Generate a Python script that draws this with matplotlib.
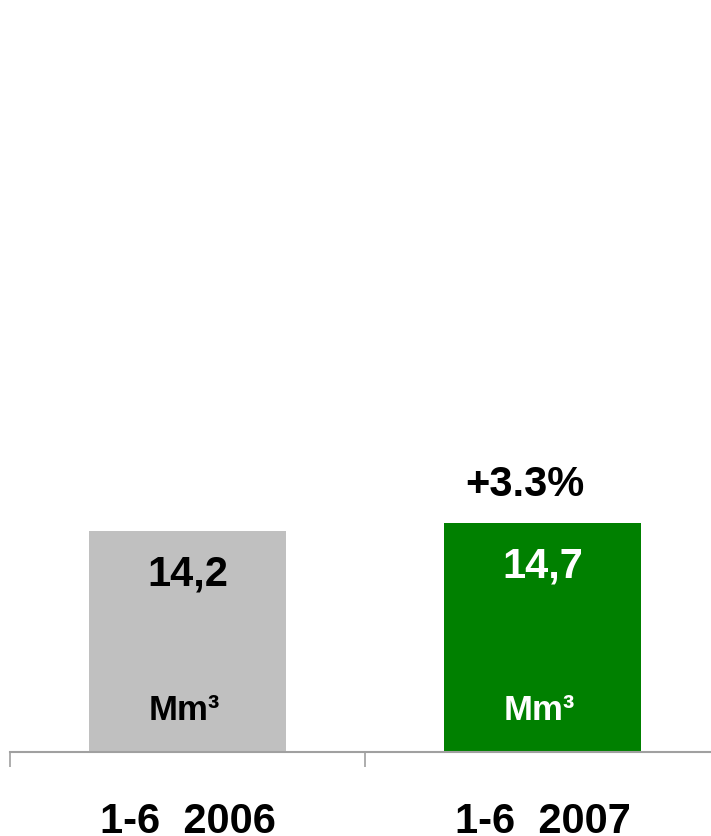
import matplotlib
matplotlib.use('Agg')
import matplotlib.pyplot as plt

# Data
periods = ['1-6  2006', '1-6  2007']
values = [14.2, 14.7]
value_labels = ['14,2', '14,7']
unit = 'Mm³'
change_label = '+3.3%'
bar_colors = ['#c0c0c0', '#008000']
text_colors = ['black', 'white']

plt.rcParams['font.family'] = ['Liberation Sans', 'DejaVu Sans']

fig = plt.figure(figsize=(7.11, 8.37), dpi=100)
ax = fig.add_axes([10 / 711, 84 / 837, 710 / 711, 753 / 837])

x = [0.5, 1.5]
ax.bar(x, values, width=0.556, color=bar_colors, zorder=2)

ax.set_xlim(0, 2)
ax.set_ylim(0, 48.4)

# value and unit labels inside the bars
for xi, v, lab, tc in zip(x, values, value_labels, text_colors):
    ax.text(xi, v - 2.7, lab, ha='center', va='center',
            fontsize=30, fontweight='bold', color=tc)
    ax.text(xi - 0.01, 2.7, unit, ha='center', va='center',
            fontsize=25, fontweight='bold', color=tc)

# change annotation above second bar
ax.text(x[1] - 0.05, values[1] + 2.5, change_label, ha='center', va='center',
        fontsize=30, fontweight='bold', color='black')

# category labels
for xi, p in zip(x, periods):
    ax.text(xi, -5.15, p, ha='center', va='baseline',
            fontsize=30, fontweight='bold', color='black', clip_on=False)

ax.set_xticks([0, 1, 2])
ax.set_xticklabels([])
ax.set_yticks([])
ax.tick_params(axis='x', direction='out', length=11, width=1.2, color='#a0a0a0')
for s in ['top', 'right', 'left']:
    ax.spines[s].set_visible(False)
ax.spines['bottom'].set_color('#a0a0a0')
ax.spines['bottom'].set_linewidth(1.5)

fig.savefig('out.png', dpi=100)
